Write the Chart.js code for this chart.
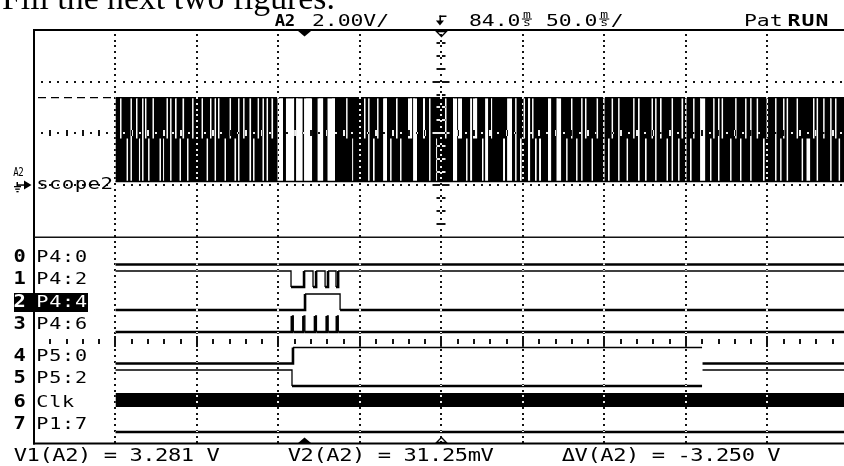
<!DOCTYPE html>
<html><head><meta charset="utf-8">
<script src="https://cdn.jsdelivr.net/npm/chart.js@4/dist/chart.umd.min.js"></script>
<style>html,body{margin:0;padding:0;background:#fff;}canvas{display:block;}</style>
</head><body>
<canvas id="c" width="844" height="466"></canvas>
<script>
// ---------------- scope settings / readouts ----------------
const timePerDiv = 50;      // ms / div
const timeDelay = 84;       // ms at screen centre
const voltsPerDiv = 2.0;    // V / div (A2)
const v1Cursor = 3.281;     // V
const v2Cursor = 0.03125;   // V
const deltaV = -3.250;      // V
const tStart = -116;        // first acquired sample (ms)
const tEnd = 331;           // last shown time (ms)

// ---------------- analog A2 ("scope2") record ----------------
// The signal toggles between V1 and V2 faster than the screen resolves; the display
// is an envelope. White slits = columns where it did not cover the full swing.
// kind: T = only lower half covered, B = only upper half covered, F = no transition
const slitStart = [-113.2,-109.2,-106.8,-103.4,-101.6,-99.7,-97.9,-96.0,-93.3,-89.0,-86.8,-84.7,-82.5,-79.5,-76.7,-74.9,-72.1,-69.0,-63.2,-60.1,-58.0,-55.2,-53.1,-49.1,-46.0,-43.0,-40.8,-37.7,-33.8,-31.6,-28.8,-25.8,-23.3,-20.3,-16.6,-11.4,-5.2,-0.3,8.0,14.1,25.5,29.2,36.5,39.0,42.0,44.5,48.2,52.5,56.1,58.6,63.5,66.6,72.7,76.4,80.7,86.2,91.1,94.2,99.1,101.6,103.4,108.9,110.8,114.4,121.8,124.3,129.2,132.2,134.4,137.1,139.6,141.4,143.9,149.4,154.6,160.5,163.5,166.6,169.7,172.1,176.1,179.2,183.2,186.2,188.4,192.4,197.6,201.6,204.6,208.9,212.9,215.1,218.1,222.1,225.2,229.2,231.3,233.5,236.5,238.4,242.7,248.8,250.7,253.7,255.9,261.1,264.2,267.2,270.3,273.4,277.4,281.3,283.5,288.7,291.8,293.6,295.8,301.9,305.0,308.0,312.0,314.2,318.2,322.5,325.5,327.7];
const slitEnd = [-112.3,-108.3,-105.9,-102.5,-100.9,-98.8,-97.0,-95.1,-92.4,-88.1,-86.2,-83.8,-81.6,-78.5,-75.8,-73.9,-71.2,-68.1,-62.3,-59.2,-57.1,-54.3,-52.2,-48.2,-45.1,-42.0,-39.9,-36.8,-32.8,-30.7,-27.9,-24.9,-22.4,-19.3,-13.2,-6.4,-1.2,4.6,11.4,18.7,26.4,29.8,37.4,39.9,43.0,45.4,50.6,53.4,57.1,59.5,66.0,69.0,73.9,77.3,81.3,87.1,93.6,96.6,100.0,102.8,105.9,109.8,112.6,115.1,123.0,127.3,130.1,133.2,135.3,138.4,140.5,142.4,145.1,151.3,157.4,161.4,164.4,167.5,170.6,173.0,177.0,180.1,184.1,187.2,189.3,193.3,198.5,202.5,205.6,209.9,213.8,216.0,219.1,223.0,226.1,230.1,232.3,234.4,237.5,239.3,245.8,249.7,251.6,254.6,256.8,262.0,265.1,268.1,271.2,274.3,278.3,282.3,284.4,289.6,292.7,294.5,296.7,302.8,305.9,310.2,312.9,315.1,319.1,323.4,326.4,328.6];
const slitKind = ['T','B','F','T','B','F','T','B','T','B','B','T','F','T','B','T','B','T','T','B','T','F','T','B','T','B','F','T','F','B','T','F','F','T','F','F','F','F','F','F','T','B','T','F','B','T','F','B','T','B','T','F','T','F','B','T','F','T','B','F','T','B','F','T','B','F','F','B','T','F','T','B','B','F','F','B','T','B','F','T','B','T','F','B','T','F','B','T','F','B','T','F','T','B','F','B','T','F','B','T','F','B','T','F','T','B','T','B','T','F','T','B','T','F','B','T','F','T','B','B','T','F','T','F','T','B'];
const slitMid = 1.7;        // V, half-swing level of partial columns

// ---------------- logic channels ----------------
const chNames = ['P4:0','P4:2','P4:4','P4:6','P5:0','P5:2','Clk','P1:7'];
const p40T = [-116, 331];                         const p40L = [0, 0];
const p42T = [-116,-8.3,-0.3,5.2,7.1,12.6,14.4,19.3,20.6,331]; const p42L = [1,0,1,0,1,0,1,0,1,1];
const p44T = [-116,0.3,21.8,331];                 const p44L = [0,1,0,0];
const p46T = [-116,-7.8,-6.9,-0.7,0.2,6.4,7.3,13.6,14.5,19.8,20.7,331]; const p46L = [0,1,0,1,0,1,0,1,0,1,0,0];
const p50T = [-116,-7.1,243.9,243.9,244.2,331];   const p50L = [0,1,1,null,0,0];
const p52T = [-116,-7.7,243.9,243.9,244.2,331];   const p52L = [1,0,0,null,1,1];
const clkT = [-116, 331]; const clkMin = [0, 0]; const clkMax = [1, 1];
const p17T = [-116, 331];                         const p17L = [0, 0];
const highlighted = 2;

// ---------------- layout constants (not data) ----------------
const groundDiv = 5.05;     // A2 ground position in divisions above screen bottom
const visibleDivs = 9.94;
const laneLow = [178.5,156,133,111,79.5,57,36,11]; // yD units (px above frame bottom)
const laneHigh = 16, clkHigh = 14, rulerLevel = 102;

const xMin = timeDelay - 5*timePerDiv, xMax = xMin + visibleDivs*timePerDiv;

// ---------- build datasets ----------
const envHi = [{x:tStart,y:v1Cursor}], envLo = [{x:tStart,y:v2Cursor}];
slitStart.forEach((s,i)=>{
  const e = slitEnd[i], k = slitKind[i];
  const hi = k==='B' ? v1Cursor : slitMid, lo = k==='T' ? v2Cursor : slitMid;
  envHi.push({x:s,y:v1Cursor},{x:s,y:hi},{x:e,y:hi},{x:e,y:v1Cursor});
  envLo.push({x:s,y:v2Cursor},{x:s,y:lo},{x:e,y:lo},{x:e,y:v2Cursor});
});
envHi.push({x:tEnd,y:v1Cursor}); envLo.push({x:tEnd,y:v2Cursor});

function logicDS(T, L, lane){
  const base = laneLow[lane];
  return {yAxisID:'yD', data:T.map((t,i)=>({x:t, y: L[i]===null ? null : base + L[i]*laneHigh})),
    stepped:true, borderColor:'#000', pointRadius:0, fill:false, borderWidth:1.3,
    borderCapStyle:'butt', order:1,
    segment:{borderWidth: c => (c.p0.parsed.y - base < 1 ? 2.6 : 1.3)}};
}
const flat = (data, axis, extra) => Object.assign({yAxisID:axis, data, pointRadius:0, borderWidth:0, fill:false, tension:0}, extra||{});

const datasets = [
  flat([{x:xMin,y:v1Cursor},{x:xMax,y:v1Cursor}],'yA',{borderColor:'#000',borderWidth:1.4,borderDash:[8,5],borderDashOffset:9,order:10}),
  flat(envHi,'yA',{order:5}),
  flat(envLo,'yA',{fill:'-1',backgroundColor:'#000',order:5}),
  flat([{x:tStart,y:v1Cursor},{x:tEnd,y:v1Cursor}],'yA',{borderColor:'#000',borderWidth:1.3,order:4}),
  flat([{x:tStart,y:v2Cursor},{x:tEnd,y:v2Cursor}],'yA',{borderColor:'#000',borderWidth:1.3,order:4}),
  logicDS(p40T,p40L,0), logicDS(p42T,p42L,1), logicDS(p44T,p44L,2), logicDS(p46T,p46L,3),
  logicDS(p50T,p50L,4), logicDS(p52T,p52L,5),
  flat(clkT.map((t,i)=>({x:t,y:laneLow[6]+clkMax[i]*clkHigh})),'yD',{order:2}),
  flat(clkT.map((t,i)=>({x:t,y:laneLow[6]+clkMin[i]*clkHigh})),'yD',{fill:'-1',backgroundColor:'#000',order:2}),
  logicDS(p17T,p17L,7)
];

// ---------- drawing helpers ----------
function monoText(ctx, str, x, base, o){
  o = o||{};
  const size=o.size||16, cell=o.cell||12.85, sx=o.sx||1.3;
  ctx.save(); ctx.fillStyle=o.color||'#000';
  ctx.font=(o.bold?'bold ':'')+size+'px "DejaVu Sans Mono"';
  ctx.textAlign='center'; ctx.textBaseline='alphabetic';
  [...str].forEach((ch,i)=>{ctx.save();ctx.translate(x+(i+0.5)*cell,base);ctx.scale(sx,1);ctx.fillText(ch,0,0);ctx.restore();});
  ctx.restore();
}
function msGlyph(ctx, x){
  ctx.save(); ctx.fillStyle='#000'; ctx.font='10px "DejaVu Sans Mono"'; ctx.textAlign='center';
  ctx.save(); ctx.translate(x+6.4,17.5); ctx.scale(1.3,1); ctx.fillText('m',0,0); ctx.restore();
  ctx.fillRect(x+1.5,18.5,10,1);
  ctx.save(); ctx.translate(x+6.4,25.5); ctx.scale(1.3,1); ctx.fillText('s',0,0); ctx.restore();
  ctx.restore();
}
function tri(ctx, pts, filled){
  ctx.beginPath(); ctx.moveTo(pts[0][0],pts[0][1]); ctx.lineTo(pts[1][0],pts[1][1]); ctx.lineTo(pts[2][0],pts[2][1]); ctx.closePath();
  if (filled) ctx.fill(); else { ctx.lineWidth=1.3; ctx.stroke(); }
}

const bgPlugin = { id:'bg', beforeDraw(chart){ const c=chart.ctx; c.save(); c.fillStyle='#fff'; c.fillRect(0,0,chart.width,chart.height); c.restore(); } };

const graticule = {
  id:'graticule',
  afterDatasetsDraw(chart){
    const {ctx, chartArea:a, scales} = chart;
    const X=scales.x, G=scales.yG, D=scales.yD;
    const pxDiv = X.getPixelForValue(timePerDiv) - X.getPixelForValue(0);
    const pyDiv = G.getPixelForValue(0) - G.getPixelForValue(1);
    const xc = Math.round(X.getPixelForValue(timeDelay));
    const pr = Math.round(D.getPixelForValue(rulerLevel));
    ctx.save();
    ctx.beginPath(); ctx.rect(a.left+1, a.top+1, a.right-a.left-1, a.bottom-a.top-1); ctx.clip();
    ctx.globalCompositeOperation='difference';
    ctx.fillStyle='#ececec';
    for (let k=-4;k<=4;k++){
      const px = Math.round(X.getPixelForValue(timeDelay+k*timePerDiv));
      for (let y=a.top+4; y<a.bottom-1; y+=pyDiv/9){
        const yy=Math.round(y); if (Math.abs(yy-pr)<7) continue;
        ctx.fillRect(px-1, yy, 2, 2);
      }
    }
    for (const g of [5,6,7]){
      const py = Math.round(G.getPixelForValue(g));
      for (let k=1; a.left+k*pxDiv/10 < a.right; k++){
        if (k%10===0) continue;
        const px = Math.round(a.left+k*pxDiv/10);
        if (Math.abs(px-xc)<10) continue;
        if (g===6 && k%2===0) ctx.fillRect(px-1, py-3, 2, 6); else ctx.fillRect(px-1, py-1, 2, 2);
      }
    }
    for (let q=17;q<32;q++){
      const py = Math.round(G.getPixelForValue(q/4));
      const hw = (q%4===0) ? 8.5 : 4.5;
      ctx.fillRect(xc-hw, py-1, hw-1, 2); ctx.fillRect(xc+1, py-1, hw-1, 2);
    }
    for (let k=1; a.left+k*pxDiv/5 < a.right; k++){
      const px = Math.round(a.left+k*pxDiv/5);
      if (k%5===0) ctx.fillRect(px-1, pr-5, 2, 11); else ctx.fillRect(px-1, pr-2, 2, 5);
    }
    ctx.restore();
  }
};

const decorations = {
  id:'decorations',
  afterDraw(chart){
    const {ctx, chartArea:a, scales} = chart;
    const X=scales.x, G=scales.yG, D=scales.yD, A=scales.yA;
    ctx.save();
    ctx.fillStyle='#000';
    ctx.font='30px "Liberation Serif"';
    const title='Fill the next two figures.';
    const w=ctx.measureText(title).width; const fs=30*333/w;
    ctx.font=fs.toFixed(2)+'px "Liberation Serif"'; ctx.textBaseline='alphabetic';
    ctx.fillText(title, 2, 9);
    // frame
    ctx.fillRect(a.left-1, a.top-1, a.right-a.left+2, 2);
    ctx.fillRect(a.left-1, a.top-1, 2, a.bottom-a.top+2.5);
    ctx.fillRect(a.left-1, a.bottom-0.5, a.right-a.left+2, 2);
    ctx.fillStyle='#111';
    ctx.fillRect(a.left, Math.round(G.getPixelForValue(4))-0.5, a.right-a.left, 1.5);
    ctx.fillStyle='#000'; ctx.strokeStyle='#000';
    // header
    monoText(ctx,'A2',275,26,{bold:true,cell:10,sx:1.05,size:16.5});
    monoText(ctx,voltsPerDiv.toFixed(2)+'V/',312,26,{size:16.5});
    const xt = X.getPixelForValue(timeDelay), x0 = X.getPixelForValue(0);
    ctx.fillRect(xt-2, 15.5, 7, 1.5); ctx.fillRect(xt-2, 15.5, 1.6, 6);
    tri(ctx,[[xt-5.5,20.5],[xt+2.5,20.5],[xt-1.5,25.5]],true);
    monoText(ctx,timeDelay.toFixed(1),469,26,{size:16.5}); msGlyph(ctx,520.4);
    monoText(ctx,timePerDiv.toFixed(1),546,26,{size:16.5}); msGlyph(ctx,597.8);
    monoText(ctx,'/',610.7,26,{size:16.5});
    monoText(ctx,'Pat',744,26,{size:16.5});
    monoText(ctx,'RUN',787,26,{bold:true,cell:14,sx:1.3,size:16.5});
    // time markers
    tri(ctx,[[x0-6.5,a.top+1],[x0+6.5,a.top+1],[x0,a.top+6.5]],true);
    tri(ctx,[[xt-5,a.top+1.5],[xt+5,a.top+1.5],[xt,a.top+6.5]],false);
    tri(ctx,[[x0-6.5,a.bottom],[x0+6.5,a.bottom],[x0,a.bottom-5.5]],true);
    tri(ctx,[[xt-5,a.bottom-0.5],[xt+5,a.bottom-0.5],[xt,a.bottom-5.5]],false);
    // A2 ground marker + label
    const gy = Math.round(A.getPixelForValue(0))+3;
    monoText(ctx,'A2',13.5,gy-9,{size:13,cell:5,sx:0.7});
    ctx.fillRect(16.5,gy-3,1.5,4); ctx.fillRect(14,gy+1,7,1.3); ctx.fillRect(15.2,gy+3.5,4.6,1.3); ctx.fillRect(16.4,gy+6,2.2,1.3);
    ctx.fillRect(17,gy-0.7,8,1.5);
    tri(ctx,[[24,gy-4.5],[31.5,gy],[24,gy+4.5]],true);
    monoText(ctx,'scope2',36,gy+4,{size:16});
    // channel labels
    for (let i=0;i<8;i++){
      const py = D.getPixelForValue(laneLow[i]);
      const base = (i===6) ? py : py-3;
      let col='#000';
      if (i===highlighted){ ctx.fillStyle='#000'; ctx.fillRect(14, py-17, 74, 19); col='#fff'; }
      monoText(ctx,String(i),14.5,base,{bold:true,cell:10.5,sx:1.2,size:17,color:col});
      monoText(ctx,chNames[i],36,base,{size:15.5,color:col});
    }
    // readouts
    monoText(ctx,'V1(A2) = '+v1Cursor.toFixed(3)+' V',14,461,{size:17});
    monoText(ctx,'V2(A2) = '+(v2Cursor*1000).toFixed(2)+'mV',288,461,{size:17});
    monoText(ctx,'\u0394V(A2) = '+deltaV.toFixed(3)+' V',562,461,{size:17});
    ctx.restore();
  }
};

new Chart(document.getElementById('c'), {
  type:'line',
  data:{datasets},
  options:{
    responsive:false, animation:false, devicePixelRatio:1, events:[],
    layout:{padding:{left:34, top:30, right:0, bottom:23}},
    plugins:{legend:{display:false}, tooltip:{enabled:false}},
    elements:{line:{tension:0}},
    scales:{
      x:{type:'linear', display:false, min:xMin, max:xMax},
      yA:{type:'linear', display:false, min:-groundDiv*voltsPerDiv, max:(8-groundDiv)*voltsPerDiv},
      yG:{type:'linear', display:false, min:0, max:8},
      yD:{type:'linear', display:false, min:0, max:413}
    }
  },
  plugins:[bgPlugin, graticule, decorations]
});
</script>
</body></html>
